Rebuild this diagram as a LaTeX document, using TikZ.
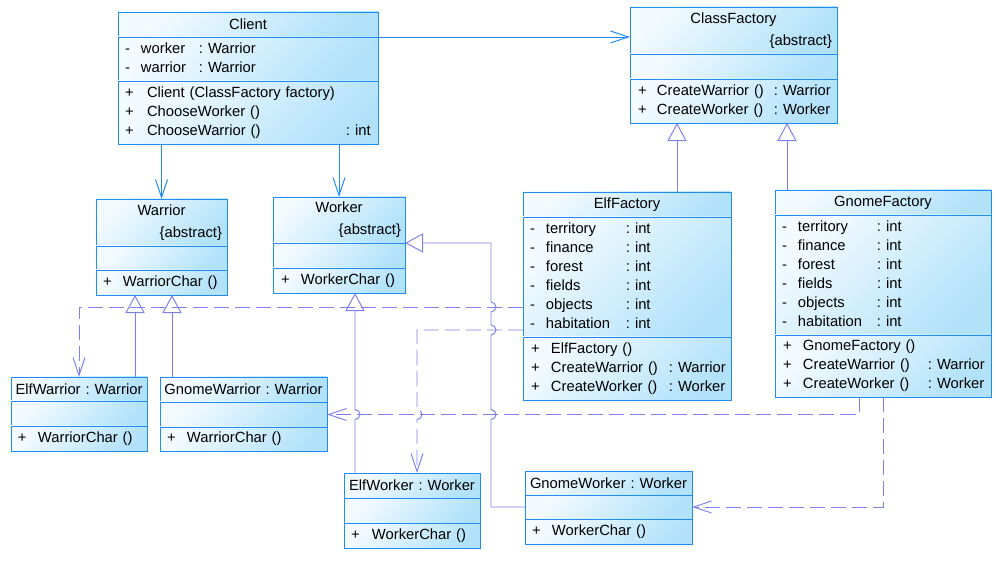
\documentclass[tikz,border=0pt]{standalone}
\usepackage{fontspec}
\setmainfont{Liberation Sans}
\usepackage{tikz}
\usetikzlibrary{positioning}
\usetikzlibrary{arrows.meta}
\usetikzlibrary{calc}

\definecolor{UML-blue}{HTML}{1E8CF0}
\definecolor{UML-line}{HTML}{7F7FEF}
\definecolor{UML-light}{HTML}{F4FBFF}
\definecolor{UML-fill}{HTML}{B2E2FA}

\newlength{\upx}
\setlength{\upx}{0.025cm}
\newcommand{\umlfont}{\fontsize{10.5}{13.5}\selectfont\frenchspacing}

\begin{document}
\begin{tikzpicture}[x=0.025cm,y=-0.025cm,
  umlpart/.style={draw=UML-blue,line width=0.7pt,top color=UML-light,bottom color=UML-fill,shading angle=45,
    inner sep=0pt,outer sep=0pt,font=\umlfont,align=left,text width=#1\upx,minimum width=#1\upx},
  umlhead/.style={umlpart=#1,align=center},
  assoc/.style={draw=UML-blue,line width=0.7pt,-{Straight Barb[length=0.45cm,width=0.3cm]}},
  inherit/.style={draw=UML-line,line width=0.7pt,-{Triangle[open,length=0.45cm,width=0.48cm]}},
  depend/.style={draw=UML-line,line width=0.7pt,dash pattern=on 0.375cm off 0.15cm,-{Straight Barb[length=0.45cm,width=0.3cm]}}]

\useasboundingbox (0,0) rectangle (996,571);

% Client
\node[umlhead=260,minimum height=25\upx,anchor=north west] (clienttitle) at (118,12) {Client};
\node[umlpart=260,minimum height=44\upx,below=0pt of clienttitle] (clientattr) {\begin{tabular}{@{\hspace{7\upx}}p{16\upx}@{}p{58\upx}@{}l@{}}
- & worker & : Warrior \\
- & warrior & : Warrior
\end{tabular}};
\node[umlpart=260,minimum height=63\upx,below=0pt of clientattr] (clientops) {\begin{tabular}{@{\hspace{7\upx}}p{22\upx}@{}p{199\upx}@{}l@{}}
+ & Client (ClassFactory factory) & \\
+ & ChooseWorker () & \\
+ & ChooseWarrior () & : int
\end{tabular}};

% ClassFactory
\node[umlhead=207,minimum height=47\upx,anchor=north west] (classfactorytitle) at (630,7) {ClassFactory \\[2pt] \hfill\{abstract\}\hspace*{5\upx}\mbox{}};
\node[umlpart=207,minimum height=25\upx,below=0pt of classfactorytitle] (classfactoryattr) {};
\node[umlpart=207,minimum height=44\upx,below=0pt of classfactoryattr] (classfactoryops) {\begin{tabular}{@{\hspace{8\upx}}p{19\upx}@{}p{117\upx}@{}l@{}}
+ & CreateWarrior () & : Warrior \\
+ & CreateWorker () & : Worker
\end{tabular}};

% Warrior
\node[umlhead=131,minimum height=47\upx,anchor=north west] (warriortitle) at (96,199) {Warrior \\[2pt] \hfill\{abstract\}\hspace*{5\upx}\mbox{}};
\node[umlpart=131,minimum height=24\upx,below=0pt of warriortitle] (warriorattr) {};
\node[umlpart=131,minimum height=25\upx,below=0pt of warriorattr] (warriorops) {\begin{tabular}{@{\hspace{7\upx}}p{20\upx}@{}l@{}}
+ & WarriorChar ()
\end{tabular}};

% Worker
\node[umlhead=132,minimum height=46\upx,anchor=north west] (workertitle) at (273,197) {Worker \\[2pt] \hfill\{abstract\}\hspace*{4\upx}\mbox{}};
\node[umlpart=132,minimum height=25\upx,below=0pt of workertitle] (workerattr) {};
\node[umlpart=132,minimum height=25\upx,below=0pt of workerattr] (workerops) {\begin{tabular}{@{\hspace{8\upx}}p{20\upx}@{}l@{}}
+ & WorkerChar ()
\end{tabular}};

% ElfFactory
\node[umlhead=208,minimum height=25\upx,anchor=north west] (elffactorytitle) at (523,192) {ElfFactory};
\node[umlpart=208,minimum height=120\upx,below=0pt of elffactorytitle] (elffactoryattr) {\begin{tabular}{@{\hspace{7\upx}}p{16\upx}@{}p{80\upx}@{}l@{}}
- & territory & : int \\
- & finance & : int \\
- & forest & : int \\
- & fields & : int \\
- & objects & : int \\
- & habitation & : int
\end{tabular}};
\node[umlpart=208,minimum height=63\upx,below=0pt of elffactoryattr] (elffactoryops) {\begin{tabular}{@{\hspace{8\upx}}p{20\upx}@{}p{118\upx}@{}l@{}}
+ & ElfFactory () & \\
+ & CreateWarrior () & : Warrior \\
+ & CreateWorker () & : Worker
\end{tabular}};

% GnomeFactory
\node[umlhead=216,minimum height=25\upx,anchor=north west] (gnomefactorytitle) at (775,190) {GnomeFactory};
\node[umlpart=216,minimum height=120\upx,below=0pt of gnomefactorytitle] (gnomefactoryattr) {\begin{tabular}{@{\hspace{7\upx}}p{16\upx}@{}p{79\upx}@{}l@{}}
- & territory & : int \\
- & finance & : int \\
- & forest & : int \\
- & fields & : int \\
- & objects & : int \\
- & habitation & : int
\end{tabular}};
\node[umlpart=216,minimum height=62\upx,below=0pt of gnomefactoryattr] (gnomefactoryops) {\begin{tabular}{@{\hspace{8\upx}}p{20\upx}@{}p{125\upx}@{}l@{}}
+ & GnomeFactory () & \\
+ & CreateWarrior () & : Warrior \\
+ & CreateWorker () & : Worker
\end{tabular}};

% products
\node[umlhead=136,minimum height=24\upx,anchor=north west] (elfwarriortitle) at (11,377) {ElfWarrior : Warrior};
\node[umlpart=136,minimum height=25\upx,below=0pt of elfwarriortitle] (elfwarriorattr) {};
\node[umlpart=136,minimum height=25\upx,below=0pt of elfwarriorattr] (elfwarriorops) {\begin{tabular}{@{\hspace{7\upx}}p{20\upx}@{}l@{}}
+ & WarriorChar ()
\end{tabular}};

\node[umlhead=167,minimum height=25\upx,anchor=north west] (gnomewarriortitle) at (160,377) {GnomeWarrior : Warrior};
\node[umlpart=167,minimum height=25\upx,below=0pt of gnomewarriortitle] (gnomewarriorattr) {};
\node[umlpart=167,minimum height=24\upx,below=0pt of gnomewarriorattr] (gnomewarriorops) {\begin{tabular}{@{\hspace{7\upx}}p{20\upx}@{}l@{}}
+ & WarriorChar ()
\end{tabular}};

\node[umlhead=136,minimum height=25\upx,anchor=north west] (elfworkertitle) at (344,473) {ElfWorker : Worker};
\node[umlpart=136,minimum height=25\upx,below=0pt of elfworkertitle] (elfworkerattr) {};
\node[umlpart=136,minimum height=25\upx,below=0pt of elfworkerattr] (elfworkerops) {\begin{tabular}{@{\hspace{7\upx}}p{21\upx}@{}l@{}}
+ & WorkerChar ()
\end{tabular}};

\node[umlhead=167,minimum height=24\upx,anchor=north west] (gnomeworkertitle) at (525,471) {GnomeWorker : Worker};
\node[umlpart=167,minimum height=24\upx,below=0pt of gnomeworkertitle] (gnomeworkerattr) {};
\node[umlpart=167,minimum height=25\upx,below=0pt of gnomeworkerattr] (gnomeworkerops) {\begin{tabular}{@{\hspace{7\upx}}p{20\upx}@{}l@{}}
+ & WorkerChar ()
\end{tabular}};

% lanes for the connectors
\coordinate (elfup) at (677,0);
\coordinate (gnomeup) at (787,0);
\coordinate (elfwarriorup) at (135,0);
\coordinate (gnomewarriorup) at (172,0);
\coordinate (elfworkerup) at (355,0);
\coordinate (gnomeworkerlane) at (491,0);
\coordinate (elfworkerlane) at (417,0);
\coordinate (gwdrop) at (859,0);
\coordinate (gkdrop) at (883,0);
\coordinate (objrow) at (0,307);
\coordinate (habrow) at (0,330);

\draw[assoc] (clienttitle.south east) -- (clienttitle.south east -| classfactorytitle.west);
\draw[assoc] (clientops.south -| warriortitle.north) -- (warriortitle.north);
\draw[assoc] (clientops.south -| workertitle.north) -- (workertitle.north);

\draw[inherit] (elfup |- elffactorytitle.north) -- (elfup |- classfactoryops.south);
\draw[inherit] (gnomeup |- gnomefactorytitle.north) -- (gnomeup |- classfactoryops.south);
\draw[inherit] (elfwarriorup |- elfwarriortitle.north) -- (elfwarriorup |- warriorops.south);
\draw[inherit] (gnomewarriorup |- gnomewarriortitle.north) -- (gnomewarriorup |- warriorops.south);
\draw[inherit] (elfworkerup |- elfworkertitle.north) -- ($(elfworkerup |- gnomewarriorattr.east)+(0,5)$)
  arc[start angle=-90,end angle=90,radius=5\upx] -- (elfworkerup |- workerops.south);
\draw[inherit] (gnomeworkerattr.west) -- (gnomeworkerattr.west -| gnomeworkerlane)
  -- ($(gnomeworkerlane |- gnomewarriorattr.east)+(0,5)$) arc[start angle=-90,end angle=90,radius=5\upx]
  -- ($(gnomeworkerlane |- habrow)+(0,5)$) arc[start angle=-90,end angle=90,radius=5\upx]
  -- ($(gnomeworkerlane |- objrow)+(0,5)$) arc[start angle=-90,end angle=90,radius=5\upx]
  -- (gnomeworkerlane |- workerattr.north east) -- (workerattr.north east);

\draw[depend] (elffactoryattr.west |- objrow) -| (elfwarriortitle.north);
\draw[depend] (elffactoryattr.west |- habrow) -- (elfworkerlane |- habrow)
  -- ($(elfworkerlane |- gnomewarriorattr.east)+(0,-5)$) arc[start angle=90,end angle=-90,radius=5\upx]
  -- (elfworkerlane |- elfworkertitle.north);
\draw[depend] (gwdrop |- gnomefactoryops.south) |- (gnomewarriorattr.east);
\draw[depend] (gkdrop |- gnomefactoryops.south) |- (gnomeworkerattr.east);

\end{tikzpicture}
\end{document}
